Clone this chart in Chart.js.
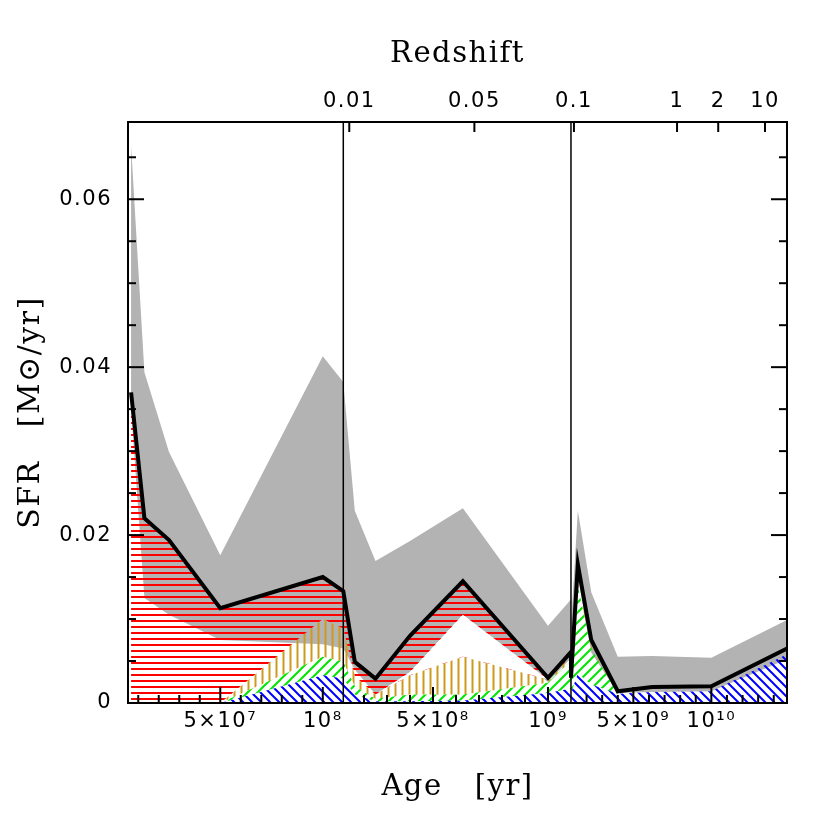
<!DOCTYPE html>
<html>
<head>
<meta charset="utf-8">
<script src="https://cdn.jsdelivr.net/npm/chart.js@4.4.1/dist/chart.umd.min.js"></script>
<style>
  html, body { margin: 0; padding: 0; background: #fff; }
  canvas { display: block; }
</style>
</head>
<body>
<canvas id="sfh" width="830" height="830"></canvas>
<script>
// age bins (yr) and star formation rates (Msun/yr)
const ages     = [6.5e6, 1.3e7, 2.5e7, 5e7, 1e8, 1.6e8, 2.5e8, 4e8, 6.3e8, 1e9, 1.44e9, 2.3e9, 4e9, 6.2e9, 1e10, 1.485e10];
const sfrTotal = [0.0370, 0.0220, 0.0194, 0.0113, 0.0150, 0.0049, 0.0029, 0.0080, 0.0145, 0.0030, 0.0165, 0.0075, 0.0014, 0.0019, 0.0020, 0.0065];
const sfrUpper = [0.0664, 0.0394, 0.0299, 0.0176, 0.0413, 0.0229, 0.0169, 0.0193, 0.0232, 0.0092, 0.0229, 0.0132, 0.0055, 0.0056, 0.0054, 0.0099];
const sfrLower = [0.0350, 0.0125, 0.0105, 0.0075, 0.0070, 0.0040, 0.0010, 0.0037, 0.0105, 0.0025, 0.0150, 0.0060, 0.0012, 0.0013, 0.0014, 0.0052];
// stacked tops of the hatched components
const blueTop  = [0, 0, 0, 0, 0.0033, 0.0010, 0.0002, 0.0002, 0.0003, 0.0012, 0.0035, 0.0022, 0.0011, 0.0013, 0.0014, 0.0058];
const greenTop = [0, 0, 0, 0, 0.0055, 0.0020, 0.0005, 0.0010, 0.0010, 0.0024, 0.0140, 0.0065, 0.0011, 0.0013, 0.0014, 0.0058];
const goldTop  = [0, 0, 0, 0, 0.0100, 0.0032, 0.0010, 0.0033, 0.0055, 0.0028, 0.0150, 0.0068, 0.0011, 0.0013, 0.0014, 0.0058];
const blankTop = [0, 0, 0, 0, 0.0100, 0.0032, 0.0010, 0.0037, 0.0105, 0.0028, 0.0150, 0.0068, 0.0011, 0.0013, 0.0014, 0.0058];
const redTop   = [0.0370, 0.0220, 0.0194, 0.0113, 0.0150, 0.0049, 0.0029, 0.0080, 0.0145, 0.0030, 0.0150, 0.0068, 0.0011, 0.0013, 0.0014, 0.0058];

const ageTickValues  = [5e7, 1e8, 5e8, 1e9, 5e9, 1e10];
const ageTickLabels  = ['5×10⁷', '10⁸', '5×10⁸', '10⁹', '5×10⁹', '10¹⁰'];
const redshiftAges   = [1.36e8, 6.8e8, 1.19e9, 7.8e9, 1.044e10, 1.344e10];
const redshiftLabels = ['0.01', '0.05', '0.1', '1', '2', '10'];
const sfrTickValues  = [0, 0.02, 0.04, 0.06];

// the age axis is three linear panels side by side
const panels = [
	{ lo: 5e6,   hi: 1.1e8,    u0: 0,      u1: 0.3267, minor: 1e7, major: [5e7, 1e8] },
	{ lo: 1.1e8, hi: 1.1e9,    u0: 0.3267, u1: 0.6722, minor: 1e8, major: [5e8, 1e9] },
	{ lo: 1.0e9, hi: 1.485e10, u0: 0.6722, u1: 1,      minor: 1e9, major: [5e9, 1e10] }
];

function toU(age, p) {
	return p.u0 + (age - p.lo) / (p.hi - p.lo) * (p.u1 - p.u0);
}
function panelOf(age) {
	return panels.find(p => age >= p.lo && age <= p.hi);
}
function sfrAt(age, vals) {
	for (let i = 0; i < ages.length - 1; i++) {
		if (age >= ages[i] && age <= ages[i + 1]) {
			const f = (age - ages[i]) / (ages[i + 1] - ages[i]);
			return vals[i] + f * (vals[i + 1] - vals[i]);
		}
	}
	return null;
}
// each panel shows the curve clipped to its own age range
function buildPoints(vals) {
	const pts = [];
	const eps = 1e-5;
	panels.forEach((p, k) => {
		const a = Math.max(p.lo, ages[0]);
		const b = Math.min(p.hi, ages[ages.length - 1]);
		pts.push({ x: toU(a, p) + (k > 0 ? eps : 0), y: sfrAt(a, vals) });
		ages.forEach((t, i) => {
			if (t > a && t < b) pts.push({ x: toU(t, p), y: vals[i] });
		});
		pts.push({ x: toU(b, p) - (k < panels.length - 1 ? eps : 0), y: sfrAt(b, vals) });
	});
	return pts;
}

function hatch(color, kind, size, lw) {
	const c = document.createElement('canvas');
	c.width = size; c.height = size;
	const g = c.getContext('2d');
	g.strokeStyle = color;
	g.lineWidth = lw;
	g.beginPath();
	if (kind === 'h') {
		g.moveTo(0, size / 2); g.lineTo(size, size / 2);
	} else if (kind === 'v') {
		g.moveTo(size / 2, 0); g.lineTo(size / 2, size);
	} else if (kind === 'up') {
		g.moveTo(0, size); g.lineTo(size, 0);
		g.moveTo(-size / 2, size / 2); g.lineTo(size / 2, -size / 2);
		g.moveTo(size / 2, size * 1.5); g.lineTo(size * 1.5, size / 2);
	} else {
		g.moveTo(0, 0); g.lineTo(size, size);
		g.moveTo(-size / 2, size / 2); g.lineTo(size / 2, size * 1.5);
		g.moveTo(size / 2, -size / 2); g.lineTo(size * 1.5, size / 2);
	}
	g.stroke();
	return g.createPattern(c, 'repeat');
}

const redHatch   = hatch('#ff0000', 'h', 6, 2);
const goldHatch  = hatch('#cc9a1c', 'v', 7, 2);
const greenHatch = hatch('#00e600', 'up', 10, 2);
const blueHatch  = hatch('#0000ff', 'down', 9, 2);

const noLine = { borderColor: 'rgba(0,0,0,0)', borderWidth: 0, pointRadius: 0, tension: 0 };

const frameTicks = {
	id: 'frameTicks',
	beforeDraw(chart) {
		chart.ctx.letterSpacing = '1.5px';
	},
	afterDatasetsDraw(chart) {
		const { ctx, chartArea: a, scales: { x, y, x2 } } = chart;
		const seg = (x0, y0, x1, y1) => { ctx.beginPath(); ctx.moveTo(x0, y0); ctx.lineTo(x1, y1); ctx.stroke(); };
		ctx.save();
		ctx.strokeStyle = '#000';
		ctx.lineWidth = 1.5;
		panels.slice(0, -1).forEach(p => {
			const px = x.getPixelForValue(p.u1);
			seg(px, a.top, px, a.bottom);
		});
		ctx.lineWidth = 2;
		panels.forEach(p => {
			for (let k = 1; k * p.minor < p.hi; k++) {
				const age = k * p.minor;
				if (age <= p.lo) continue;
				const px = x.getPixelForValue(toU(age, p));
				seg(px, a.bottom, px, a.bottom - (p.major.includes(age) ? 16 : 8));
			}
		});
		redshiftAges.forEach(age => {
			const px = x2.getPixelForValue(toU(age, panelOf(age)));
			seg(px, a.top, px, a.top + 10);
		});
		for (let k = 1; k * 0.005 < y.max; k++) {
			const py = y.getPixelForValue(k * 0.005);
			const len = k % 4 === 0 ? 16 : 8;
			seg(a.left, py, a.left + len, py);
			seg(a.right, py, a.right - len, py);
		}
		ctx.lineWidth = 2;
		ctx.strokeRect(a.left, a.top, a.right - a.left, a.bottom - a.top);
		ctx.restore();
	}
};

const tickFont = { family: 'DejaVu Sans', size: 21 };
const titleFont = { family: 'DejaVu Serif', size: 29 };

new Chart(document.getElementById('sfh'), {
	type: 'line',
	data: {
		datasets: [
			{ ...noLine, data: buildPoints(sfrUpper), fill: 1, backgroundColor: '#b3b3b3', order: 10 },
			{ ...noLine, data: buildPoints(sfrLower), fill: false, order: 9 },
			{ ...noLine, data: buildPoints(redTop), fill: 4, backgroundColor: redHatch, order: 8 },
			{ ...noLine, data: buildPoints(blankTop), fill: { target: 4, above: '#ffffff', below: 'rgba(0,0,0,0)' }, order: 7 },
			{ ...noLine, data: buildPoints(goldTop), fill: 5, backgroundColor: goldHatch, order: 6 },
			{ ...noLine, data: buildPoints(greenTop), fill: 6, backgroundColor: greenHatch, order: 5 },
			{ ...noLine, data: buildPoints(blueTop), fill: 'origin', backgroundColor: blueHatch, order: 4 },
			{ data: buildPoints(sfrTotal), fill: false, borderColor: '#000', borderWidth: 4, pointRadius: 0, tension: 0, order: 1 }
		]
	},
	options: {
		responsive: false,
		animation: false,
		devicePixelRatio: 1,
		layout: { padding: { right: 43 } },
		plugins: {
			legend: { display: false },
			tooltip: { enabled: false }
		},
		scales: {
			x: {
				type: 'linear', position: 'bottom', min: 0, max: 1,
				afterFit: s => { s.height = 127; },
				afterBuildTicks: s => { s.ticks = ageTickValues.map(a => ({ value: toU(a, panelOf(a)) })); },
				ticks: { autoSkip: false, maxRotation: 0, padding: 6, font: tickFont, color: '#000',
					callback: (v, i) => ageTickLabels[i] },
				grid: { display: false, drawTicks: false },
				border: { display: false },
				title: { display: true, text: 'Age   [yr]', font: titleFont, color: '#000', padding: { bottom: 25 } }
			},
			x2: {
				type: 'linear', position: 'top', min: 0, max: 1,
				afterFit: s => { s.height = 122; },
				afterBuildTicks: s => { s.ticks = redshiftAges.map(a => ({ value: toU(a, panelOf(a)) })); },
				ticks: { autoSkip: false, maxRotation: 0, padding: 8, font: tickFont, color: '#000',
					callback: (v, i) => redshiftLabels[i] },
				grid: { display: false, drawTicks: false },
				border: { display: false },
				title: { display: true, text: 'Redshift', font: titleFont, color: '#000', padding: { top: 37 } }
			},
			y: {
				type: 'linear', min: 0, max: 0.0692,
				afterFit: s => { s.width = 128; },
				afterBuildTicks: s => { s.ticks = sfrTickValues.map(v => ({ value: v })); },
				ticks: { padding: 16, font: tickFont, color: '#000',
					callback: v => v === 0 ? '0' : v.toFixed(2) },
				grid: { display: false, drawTicks: false },
				border: { display: false },
				title: { display: true, text: 'SFR   [M⊙/yr]', font: { family: 'DejaVu Serif', size: 30 }, color: '#000', padding: { top: 13 } }
			}
		}
	},
	plugins: [frameTicks]
});
</script>
</body>
</html>
